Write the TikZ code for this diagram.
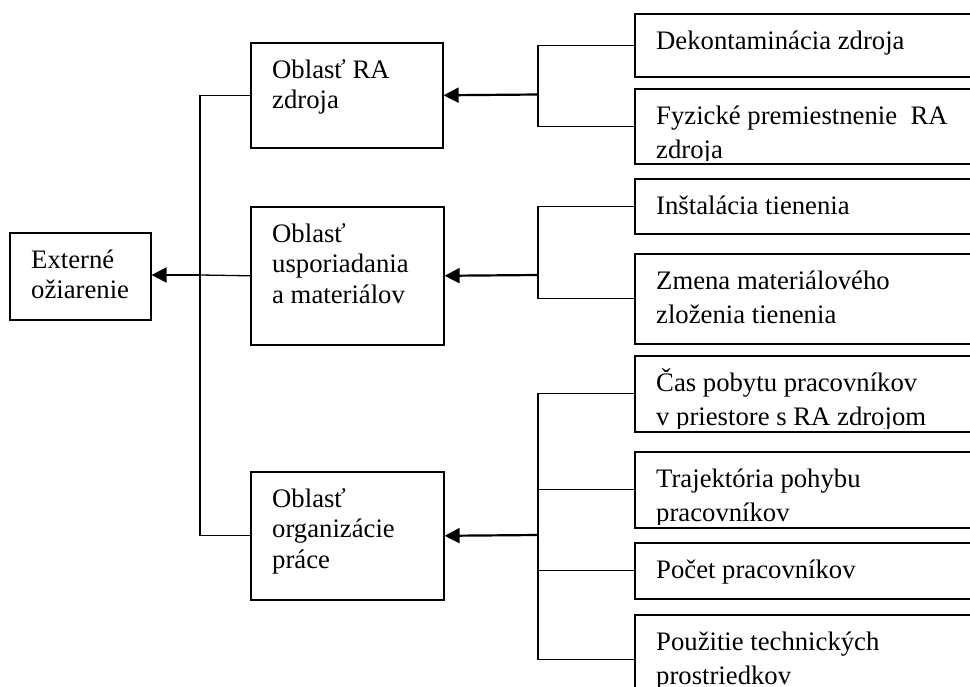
\documentclass[tikz,border=0pt]{standalone}
\usepackage{fontspec}
\setmainfont{Liberation Serif}
\usetikzlibrary{arrows.meta}
\newcommand\boxtxt[3][txt]{\begin{scope}\clip (#2.north west) rectangle ([yshift=4pt]#2.south east);
  \node[#1] (#2t) at ([shift={(22pt,-10pt)}]#2.north west) {\rule{0pt}{26pt}#3};\end{scope}}
\begin{document}
\begin{tikzpicture}[x=1pt,y=-1pt,
  box/.style={draw, line width=1.6pt, inner sep=0pt, anchor=north west},
  conn/.style={line width=1.3pt},
  arr/.style={line width=2.2pt, -{Triangle[length=15pt,width=15pt]}},
  txt/.style={anchor=north west, inner sep=0pt, align=left, font=\fontsize{26.7}{30.7}\selectfont},
  txtr/.style={txt, font=\fontsize{26.7}{34}\selectfont}
]
\useasboundingbox (0,0) rectangle (970,687);
\clip (0,0) rectangle (970,687);
% left column
\node[box, minimum width=141pt, minimum height=87pt] (ext) at (9,232) {};
\node[box, minimum width=192pt, minimum height=105pt] (ra) at (250,42) {};
\node[box, minimum width=193pt, minimum height=138pt] (usp) at (250,206) {};
\node[box, minimum width=193pt, minimum height=128pt] (org) at (250,471) {};
% right column
\node[box, minimum width=361pt, minimum height=63pt] (dek) at (634,13) {};
\node[box, minimum width=361pt, minimum height=75pt] (fyz) at (634,88) {};
\node[box, minimum width=361pt, minimum height=55pt] (ins) at (634,178) {};
\node[box, minimum width=361pt, minimum height=90pt] (zme) at (634,253) {};
\node[box, minimum width=361pt, minimum height=76pt] (cas) at (634,355) {};
\node[box, minimum width=361pt, minimum height=76pt] (tra) at (634,451) {};
\node[box, minimum width=361pt, minimum height=56pt] (poc) at (634,542) {};
\node[box, minimum width=361pt, minimum height=90pt] (pou) at (634,614) {};
% texts
\boxtxt{ext}{Externé\\ožiarenie}
\boxtxt{ra}{Oblasť RA\\zdroja}
\boxtxt{usp}{Oblasť\\usporiadania\\a materiálov}
\boxtxt{org}{Oblasť\\organizácie\\práce}
\boxtxt[txtr]{dek}{Dekontaminácia zdroja}
\boxtxt[txtr]{fyz}{Fyzické premiestnenie~ RA\\zdroja}
\boxtxt[txtr]{ins}{Inštalácia tienenia}
\boxtxt[txtr]{zme}{Zmena materiálového\\zloženia tienenia}
\boxtxt[txtr]{cas}{Čas pobytu pracovníkov\\v priestore s RA zdrojom}
\boxtxt[txtr]{tra}{Trajektória pohybu\\pracovníkov}
\boxtxt[txtr]{poc}{Počet pracovníkov}
\boxtxt[txtr]{pou}{Použitie technických\\prostriedkov}
% junctions
\coordinate (jl) at (200,275);
\coordinate (b1) at (538,94.5);
\coordinate (b2) at (538,275);
\coordinate (b3) at (538,535);
% left connectors
\draw[conn] (ra.west) -| (jl) |- (org.west);
\draw[conn] (usp.west) -- (jl);
\draw[arr] (jl) -- (ext.east |- jl);
% right connectors
\draw[conn] (dek.west) -| (b1) |- (fyz.west);
\draw[arr] (b1) -- (ra.east);
\draw[conn] (ins.west) -| (b2) |- (zme.west);
\draw[arr] (b2) -- (usp.east);
\draw[conn] (cas.west) -| (b3) |- (pou.west);
\draw[conn] (tra.west) -- (tra.west -| b3);
\draw[conn] (poc.west) -- (poc.west -| b3);
\draw[arr] (b3) -- (org.east);
\end{tikzpicture}
\end{document}
